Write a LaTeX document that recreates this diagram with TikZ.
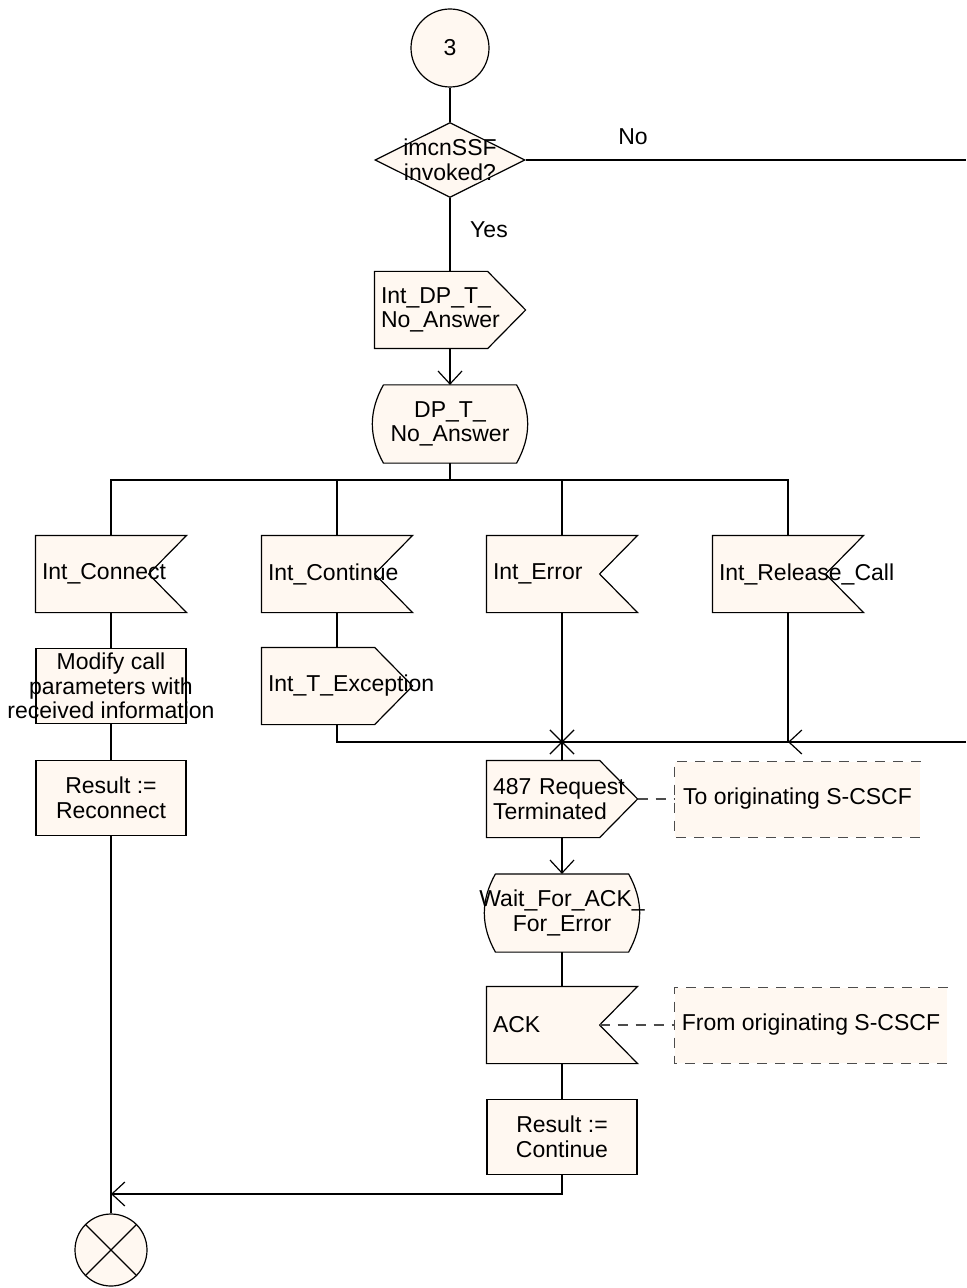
\documentclass[tikz,border=0pt]{standalone}
\usepackage{fontspec}
\setmainfont{Liberation Sans}
\usetikzlibrary{arrows.meta, shapes.geometric, shapes.misc, backgrounds}

\definecolor{sdlfill}{RGB}{255,248,241}

\tikzset{
  sdl/.style={draw=black, fill=sdlfill, line width=0.6pt},
  sigbox/.style={rectangle, minimum width=75pt, minimum height=38pt, text width=69pt, inner xsep=3pt, inner ysep=0pt, align=left},
  taskbox/.style={sdl, rectangle, minimum width=75pt, minimum height=37.5pt, align=center, inner sep=0pt},
  statebox/.style={rectangle, minimum width=76pt, minimum height=38.5pt, inner sep=0pt},
  notebox/.style={rectangle, fill=sdlfill, minimum height=37.5pt, inner sep=0pt},
  flow/.style={-{Straight Barb[length=6.5pt, width=12pt]}},
  notelink/.style={dash pattern=on 5pt off 4pt, draw=black!70}
}

\begin{document}
\begin{tikzpicture}[x=0.5pt, y=-0.5pt, line width=0.6pt, font=\fontsize{11.5}{12.3}\selectfont]
\useasboundingbox (0,0) rectangle (966,1288);

% start and decision
\node[sdl, circle, minimum size=39pt, inner sep=0pt] (c3) at (450,48) {3};
\node[sdl, diamond, minimum width=75pt, minimum height=37.5pt, inner sep=0pt,
  label={[align=center]center:imcnSSF\\invoked?}] (dec) at (450,160) {};
\coordinate (noEnd) at (966,160);
\node (no) at (633,137) {No};
\node (yes) at (489,230) {Yes};

\node[sigbox] (out1) at (450,310) {Int\_DP\_T\_\\No\_Answer};
\node[statebox, label={[align=center]center:DP\_T\_\\No\_Answer}] (st1) at (450,424) {};
\coordinate (bus) at (450,480);

% received signals
\node[sigbox] (in1) at (111,574) {Int\_Connect};
\node[sigbox] (in2) at (337,574) {Int\_Continue};
\node[sigbox] (in3) at (562,574) {Int\_Error};
\node[sigbox] (in4) at (788,574) {Int\_Release\_Call};

\node[taskbox, label={[align=center]center:Modify call\\parameters with\\received information}] (task1) at (111,686) {};
\node[taskbox] (task2) at (111,798) {Result :=\\Reconnect};
\node[sigbox] (out2) at (337,686) {Int\_T\_Exception};

\node[draw, cross out, minimum size=11.5pt, inner sep=0pt] (jn) at (562,742) {};
\coordinate (rEnd) at (966,742);
\coordinate (mR) at (788,742);

% error branch
\node[sigbox] (out3) at (562,799) {487 Request\\Terminated};
\node[notebox, minimum width=122.5pt] (cm1) at (797.5,799) {To originating S-CSCF};
\node[statebox, label={[align=center]center:Wait\_For\_ACK\_\\For\_Error}] (st2) at (562,913) {};
\node[sigbox] (in5) at (562,1025) {ACK};
\node[notebox, minimum width=136pt] (cm2) at (811,1025) {From originating S-CSCF};
\node[taskbox] (task3) at (562,1137) {Result :=\\Continue};
\coordinate (mrg) at (111,1194);

\node[sdl, circle, minimum size=36pt, inner sep=0pt] (endc) at (111,1250) {};
\draw (endc.north west) -- (endc.south east) (endc.north east) -- (endc.south west);

% symbol outlines
\begin{scope}[on background layer]
  \foreach \n in {in1,in2,in3,in4,in5}
    \path[sdl] (\n.north west) -- (\n.north east) -- ([xshift=-19pt]\n.east) -- (\n.south east) -- (\n.south west) -- cycle;
  \foreach \n in {out1,out2,out3}
    \path[sdl] (\n.north west) -- ([xshift=-19pt]\n.north east) -- (\n.east) -- ([xshift=-19pt]\n.south east) -- (\n.south west) -- cycle;
  \foreach \n in {st1,st2}
    \path[sdl] ([xshift=5pt]\n.north west) -- ([xshift=-5pt]\n.north east) to[bend left=29] ([xshift=-5pt]\n.south east)
      -- ([xshift=5pt]\n.south west) to[bend left=29] ([xshift=5pt]\n.north west);
  \foreach \n in {cm1,cm2}
    \draw[notelink] (\n.north east) -- (\n.north west) -- (\n.south west) -- (\n.south east);
\end{scope}

% connectors
\draw (c3) -- (dec);
\draw (dec.east) -- (noEnd);
\draw (dec) -- (out1);
\draw[flow] (out1) -- (st1);
\draw (st1) -- (bus);
\draw (in1) |- (bus) -| (in4);
\draw (in2) |- (bus);
\draw (in3) |- (bus);
\draw (in1) -- (task1);
\draw (task1) -- (task2);
\draw (task2) -- (mrg) -- (endc);
\draw (in2) -- (out2);
\draw (out2) |- (jn.center);
\draw[flow] (rEnd) -- (mR);
\draw (in4) -- (mR) -- (jn.center);
\draw (in3) -- (jn.center) -- (out3);
\draw[notelink] (out3.east) -- (cm1);
\draw[flow] (out3) -- (st2);
\draw (st2) -- (in5);
\draw[notelink] ([xshift=-19pt]in5.east) -- (cm2);
\draw (in5) -- (task3);
\draw[flow] (task3) |- (mrg);
\end{tikzpicture}
\end{document}
